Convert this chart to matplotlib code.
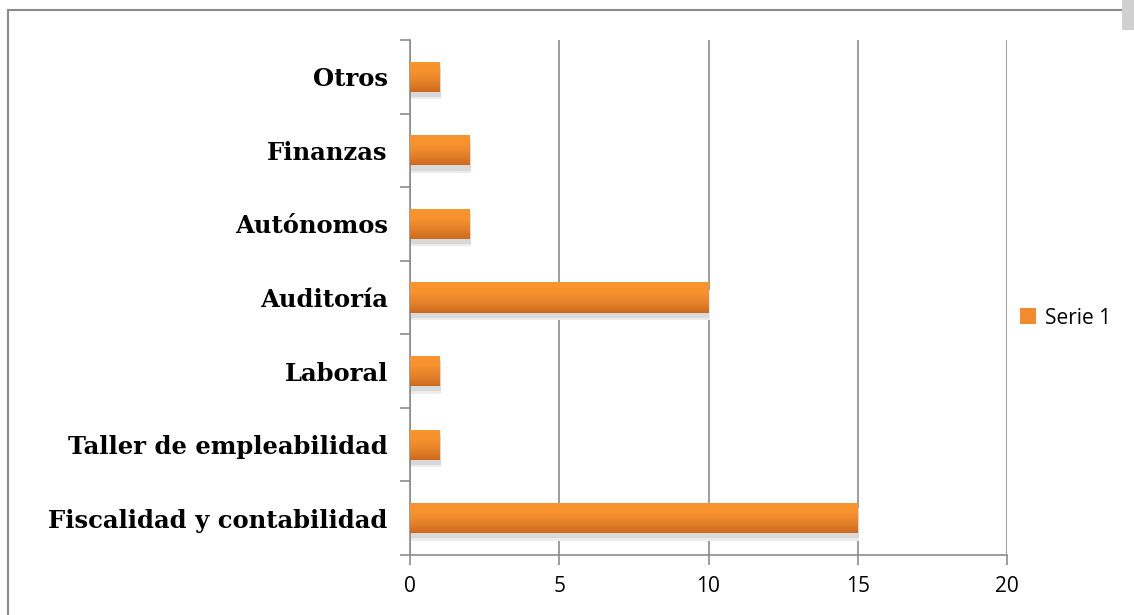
import matplotlib.pyplot as plt
from matplotlib.patches import Rectangle
from matplotlib.colors import LinearSegmentedColormap
import numpy as np

categories = ['Fiscalidad y contabilidad', 'Taller de empleabilidad', 'Laboral',
              'Auditoría', 'Autónomos', 'Finanzas', 'Otros']
values = [15, 1, 1, 10, 2, 2, 1]
xticks = [0, 5, 10, 15, 20]
series_name = 'Serie 1'


def main():
    fig = plt.figure(figsize=(11.34, 6.15), dpi=100)
    fig.patch.set_facecolor('white')

    # outer chart frame
    fig.patches.append(Rectangle((8 / 1134, -0.01), 1.02, (615 - 10) / 615 + 0.01,
                                 transform=fig.transFigure, fill=False,
                                 edgecolor='#8c8c8c', linewidth=1.5))
    fig.patches.append(Rectangle((1122 / 1134, (615 - 30) / 615), 12 / 1134, 30 / 615,
                                 transform=fig.transFigure, facecolor='#d0d0d0',
                                 edgecolor='none'))

    ax = fig.add_axes([410 / 1134, 60 / 615, (1007 - 410) / 1134, (555 - 40) / 615])
    y = np.arange(len(categories))
    h = 0.41

    # soft shadow under the bars
    ax.barh(y - 0.10, values, height=h, left=0.05, color='#ececec', edgecolor='none', zorder=2)
    ax.barh(y - 0.07, values, height=h, left=0.03, color='#d9d9d9', edgecolor='none', zorder=2)
    bars = ax.barh(y, values, height=h, color='#f08c2e', edgecolor='none', zorder=3,
                   label=series_name)

    # vertical gradient on each bar
    cmap = LinearSegmentedColormap.from_list('org', ['#cd6a1f', '#e5822a', '#f7922e', '#f9952f'])
    grad = np.linspace(0, 1, 64).reshape(-1, 1)
    for b in bars:
        x0, y0 = b.get_x(), b.get_y()
        im = ax.imshow(grad, cmap=cmap, aspect='auto', origin='lower',
                       extent=[x0, x0 + b.get_width(), y0, y0 + b.get_height()], zorder=3.5)
        im.set_clip_path(b)

    ax.set_xlim(0, 20)
    ax.set_ylim(-0.5, len(categories) - 0.5)
    ax.set_xticks(xticks)
    ax.set_xticklabels([str(t) for t in xticks], fontsize=15, family='Open Sans')
    ax.set_yticks(y)
    ax.set_yticklabels(categories, fontsize=17.5, family='DejaVu Serif', fontweight='bold')
    ax.set_yticks(np.arange(-0.5, len(categories)), minor=True)

    ax.tick_params(axis='y', which='major', length=0, pad=16)
    ax.tick_params(axis='y', which='minor', length=7, color='#8c8c8c', width=1.2)
    ax.tick_params(axis='x', length=7, color='#8c8c8c', width=1.2, pad=8)

    ax.grid(axis='x', color='#8c8c8c', linewidth=1.2, zorder=0)
    ax.set_axisbelow(True)
    for s in ['top', 'right']:
        ax.spines[s].set_visible(False)
    for s in ['left', 'bottom']:
        ax.spines[s].set_color('#8c8c8c')
        ax.spines[s].set_linewidth(1.2)

    handles, labels = ax.get_legend_handles_labels()
    fig.legend(handles, labels, loc='center left', bbox_to_anchor=(1001 / 1134, 1 - 318 / 615),
               frameon=False, prop={'family': 'Open Sans', 'size': 15},
               handlelength=0.8, handleheight=0.8, handletextpad=0.4)

    fig.savefig('out.png', dpi=100)


if __name__ == '__main__':
    main()
